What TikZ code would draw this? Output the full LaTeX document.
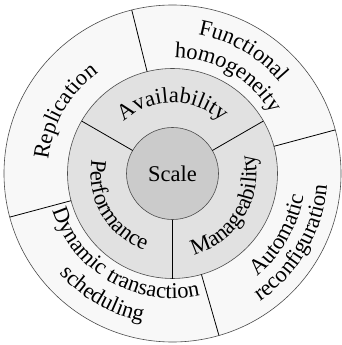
\documentclass[tikz,border=0pt]{standalone}
\usepackage{fontspec}
\setmainfont{Liberation Serif}
\usetikzlibrary{decorations.text}

\definecolor{coregray}{HTML}{CBCBCB}
\definecolor{ringgray}{HTML}{E1E1E1}
\definecolor{outergray}{HTML}{F8F8F8}
\newcommand{\ringfont}{\fontsize{22.5}{26}\selectfont}

\tikzset{
    rimline/.style={draw=black!70, line width=0.6pt},
    spoke/.style={draw=black, line width=0.8pt},
    arclabel/.style={decorate, decoration={text along path, text align=center, text={|\ringfont|#1}}}
}

\begin{document}
\begin{tikzpicture}[x=1pt,y=1pt]
                \useasboundingbox (-172.5,-171.5) rectangle (169.5,173.5);

                % rings
                \draw[rimline, fill=outergray] (0,0) circle[radius=168.5];
                \draw[rimline, fill=ringgray] (0,0) circle[radius=105];
                \draw[rimline, fill=coregray] (0,0) circle[radius=46];

                % spokes of the middle ring
                \draw[spoke] (30:46) -- (30:105);
                \draw[spoke] (150:46) -- (150:105);
                \draw[spoke] (270:46) -- (270:105);

                % spokes of the outer ring
                \draw[spoke] (15:105) -- (15:168.5);
                \draw[spoke] (104:105) -- (104:168.5);
                \draw[spoke] (195:105) -- (195:168.5);
                \draw[spoke] (286:105) -- (286:168.5);

                \node (scale) at (0,0) {\ringfont Scale};

                % middle ring
                \path[arclabel={Availability}] (160:71) arc[start angle=160, end angle=20, radius=71];
                \path[arclabel={Performance}] (140:82) arc[start angle=140, end angle=280, radius=82];
                \path[arclabel={Manageability}] (258:84) arc[start angle=258, end angle=400, radius=84];

                % outer ring
                \path[arclabel={Replication}] (220:125) arc[start angle=220, end angle=80, radius=125];
                \path[arclabel={Functional}] (130:141) arc[start angle=130, end angle=-10, radius=141];
                \path[arclabel={homogeneity}] (130:116) arc[start angle=130, end angle=-10, radius=116];
                \path[arclabel={Dynamic transaction}] (165:125) arc[start angle=165, end angle=315, radius=125];
                \path[arclabel={scheduling}] (170:151) arc[start angle=170, end angle=310, radius=151];
                \path[arclabel={Automatic}] (260:133) arc[start angle=260, end angle=400, radius=133];
                \path[arclabel={reconfiguration}] (260:155) arc[start angle=260, end angle=400, radius=155];
\end{tikzpicture}
\end{document}
